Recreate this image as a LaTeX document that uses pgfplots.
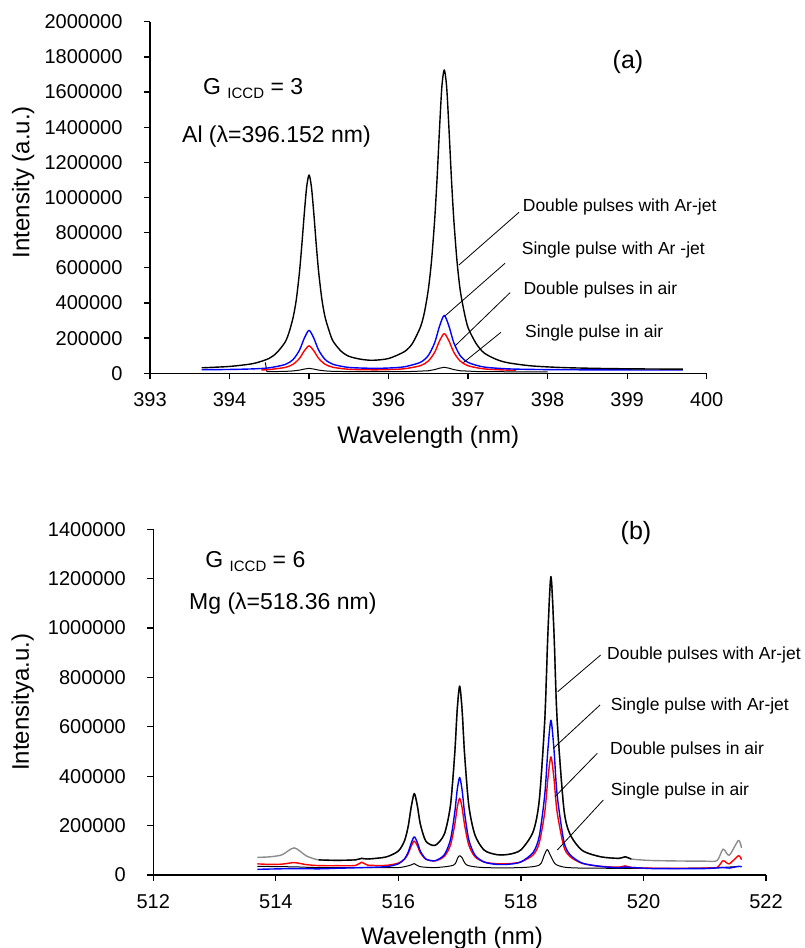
\documentclass[border=0pt]{standalone}
\usepackage{fontspec}
\setmainfont{Liberation Sans}
\usepackage{pgfplots}
\pgfplotsset{compat=1.18}
\definecolor{dpgray}{RGB}{140,140,140}
\pgfplotsset{
  spec/.style={
    scale only axis, anchor=south west, clip=false,
    axis x line=bottom, axis y line=left,
    axis line style={-, line width=1.3pt},
    every tick/.style={black, line width=1.3pt},
    tick align=outside, major tick length=6pt,
    scaled y ticks=false,
    tick label style={font=\fontsize{20}{20}\selectfont},
    yticklabel style={/pgf/number format/fixed, /pgf/number format/1000 sep={},
                      /pgf/number format/assume math mode=true, xshift=-18pt},
    xticklabel style={/pgf/number format/assume math mode=true, yshift=-10pt},
    label style={font=\fontsize{24}{24}\selectfont},
    every axis plot/.append style={line width=1.4pt, line join=round, smooth, tension=0.45},
  },
}
\tikzset{
  lbl/.style={font=\fontsize{17.5}{17.5}\selectfont, anchor=base west, inner sep=0pt},
  big/.style={font=\fontsize{23}{23}\selectfont, anchor=base west, inner sep=0pt},
}

\begin{document}
\begin{tikzpicture}
\useasboundingbox (0,0) rectangle (804pt,948pt);

% ---------------------------------------------------------------- (a) Al
\begin{axis}[spec,
  at={(150pt,574.7pt)}, width=556.7pt, height=351.6pt,
  xmin=393, xmax=400, xtick={393,394,395,396,397,398,399,400},
  ymin=0, ymax=2000000,
  ytick={0,200000,400000,600000,800000,1000000,1200000,1400000,1600000,1800000,2000000},
  xlabel={Wavelength (nm)}, ylabel={Intensity (a.u.)},
  xlabel style={at={(axis description cs:0.5,-0.181)}, anchor=center},
  ylabel style={at={(axis description cs:-0.228,0.544)}, anchor=center},
]
% single pulse in air
\addplot[black, line width=1pt, sharp plot] coordinates {
 (394.45,62000) (394.47,9000) (394.7,10850) (394.8,13500) (394.88,18100) (394.94,24000)
 (395.0,28100) (395.06,24000) (395.12,18200) (395.2,13600)
 (395.3,10950) (395.6,9100) (396.0,9000) (396.3,10300) (396.5,14500) (396.58,21100)
 (396.64,29000) (396.7,34100) (396.76,29000)
 (396.82,21100) (396.9,14500) (397.1,10200) (397.5,8600) (398.0,8300)};
% double pulses in air
\addplot[red] coordinates {
 (394.4,19050) (394.5,21400) (394.7,33400) (394.8,51500) (394.88,84900) (394.94,127600)
 (395.0,156000) (395.06,127700) (395.12,85200) (395.2,52000) (395.3,34200) (395.5,22800)
 (395.8,19800) (396.0,21100) (396.2,26000) (396.4,43300) (396.5,70100) (396.58,119800)
 (396.64,183400) (396.7,225700) (396.76,183300) (396.82,119600) (396.9,69700)
 (397.0,42800) (397.2,25000) (397.5,18000) (397.6,17000)};
% single pulse with Ar-jet
\addplot[blue] coordinates {
 (393.65,20300) (394.0,21800) (394.3,25200) (394.5,31200) (394.7,50200) (394.8,78900)
 (394.88,131800) (394.94,199400) (395.0,244500) (395.06,199700) (395.12,132300)
 (395.2,79600) (395.3,51300) (395.5,33300) (395.8,28400) (396.0,30000) (396.2,37100)
 (396.4,62400) (396.5,101600) (396.58,174300) (396.64,267200) (396.7,329100)
 (396.76,267000) (396.82,174000) (396.9,101000) (397.0,61600) (397.2,35600)
 (397.5,25300) (397.8,22100) (398.2,20300) (398.7,19400) (399.2,18900) (399.7,18600)};
% double pulses with Ar-jet
\addplot[black] coordinates {
 (393.65,31300) (394.0,39000) (394.3,55600) (394.5,85000) (394.6,120000) (394.7,177900)
 (394.75,235000) (394.8,318300) (394.84,420000)
 (394.88,577400) (394.91,735000) (394.94,907900) (394.97,1060000) (395.0,1128400)
 (395.03,1060000) (395.06,909000) (395.09,735000) (395.12,579700) (395.16,425000)
 (395.2,322300) (395.25,245000) (395.3,184200) (395.4,127000) (395.5,96800)
 (395.65,80000) (395.8,74000) (396.0,84100) (396.2,123500) (396.3,170000)
 (396.4,262600) (396.45,345000) (396.5,477500) (396.54,640000) (396.58,876300)
 (396.61,1110000) (396.64,1385900) (396.67,1630000) (396.7,1725500)
 (396.73,1630000) (396.76,1385100) (396.79,1110000) (396.82,874800) (396.86,640000)
 (396.9,474900) (396.95,350000) (397.0,258600) (397.1,170000) (397.2,115900)
 (397.35,80000) (397.5,59900) (397.8,42000) (398.2,32400) (398.7,27300) (399.2,24800) (399.7,23400)};

\draw[black, line width=0.8pt] (axis cs:397.64,915800) -- (axis cs:396.885,616000);
\draw[black, line width=0.8pt] (axis cs:397.464,625700) -- (axis cs:396.709,326000);
\draw[black, line width=0.8pt] (axis cs:397.527,458500) -- (axis cs:396.835,155300);
\draw[black, line width=0.8pt] (axis cs:397.413,233200) -- (axis cs:396.94,60300);
\node[lbl] at (axis cs:397.686,919200) {Double pulses with Ar-jet};
\node[lbl] at (axis cs:397.674,672900) {Single pulse with Ar -jet};
\node[lbl] at (axis cs:397.694,445400) {Double pulses in air};
\node[lbl] at (axis cs:397.715,204800) {Single pulse in air};
\node[big] at (axis cs:393.666,1585900) {G \raisebox{-4pt}{\fontsize{15}{15}\selectfont ICCD} = 3};
\node[big] at (axis cs:393.402,1311700) {Al (λ=396.152 nm)};
\node[font=\fontsize{25}{25}\selectfont, anchor=center] at (axis cs:399.01,1770800) {(a)};
\end{axis}

% ---------------------------------------------------------------- (b) Mg
\begin{axis}[spec,
  at={(153.3pt,73pt)}, width=612.7pt, height=345.7pt,
  xmin=512, xmax=522, xtick={512,514,516,518,520,522},
  ymin=0, ymax=1400000,
  ytick={0,200000,400000,600000,800000,1000000,1200000,1400000},
  xlabel={Wavelength (nm)}, ylabel={Intensitya.u.)},
  xlabel style={at={(axis description cs:0.4875,-0.182)}, anchor=center},
  ylabel style={at={(axis description cs:-0.213,0.5)}, anchor=center},
]
% single pulse in air
\addplot[black, line width=1pt] coordinates {
 (513.7,35000) (514.3,33000) (514.7,30000) (515.5,30000) (516.0,30000) (516.2,40000)
 (516.26,46000) (516.35,34000) (516.6,30000) (516.9,40000) (516.97,70000) (517.0,78000)
 (517.04,70000) (517.12,40000) (517.4,30000) (518.0,30000) (518.3,40000) (518.38,80000)
 (518.43,103000) (518.48,80000) (518.56,45000) (518.7,32000) (519.0,28000)
 (520.0,27000) (521.0,28000) (521.6,35000)};
% double pulses in air
\addplot[red] coordinates {
 (513.7,45000) (513.9,43000) (514.1,44000) (514.3,50000) (514.5,42000) (514.7,38000)
 (515.0,37700) (515.3,38500) (515.4,52000) (515.5,40000) (515.8,39000) (516.0,48300)
 (516.1,64200) (516.16,86700) (516.21,117200) (516.26,137800) (516.31,118600)
 (516.36,89500) (516.45,63600) (516.6,57400) (516.75,75400) (516.85,121100)
 (516.92,203800) (516.96,273000) (517.0,310800) (517.04,272800) (517.08,203400)
 (517.15,120400) (517.25,73800) (517.4,52700) (517.6,45500) (517.8,45800)
 (518.0,52900) (518.2,81500) (518.3,130400) (518.39,256100) (518.44,389500)
 (518.49,478400) (518.54,389300) (518.59,255700) (518.7,115300) (518.8,74800)
 (519.0,47200) (519.3,35200) (519.6,31600) (519.7,37000) (519.8,30600) (520.1,27700)
 (520.5,27100) (521.0,27700) (521.2,30000) (521.3,58000) (521.4,45000) (521.55,78000)
 (521.6,62000)};
% single pulse with Ar-jet
\addplot[blue] coordinates {
 (513.7,23000) (514.3,26000) (514.7,25000) (515.0,27200) (515.4,30000) (515.8,33800)
 (516.0,45300) (516.1,64800) (516.16,92200) (516.21,129500) (516.26,154700)
 (516.31,131400) (516.36,96000) (516.45,64600) (516.6,57800) (516.75,82200)
 (516.85,143000) (516.92,252800) (516.96,344600) (517.0,394900) (517.04,344400)
 (517.08,252400) (517.15,142200) (517.25,80500) (517.4,52400) (517.6,43000)
 (517.8,43500) (518.0,53000) (518.2,91600) (518.3,157600) (518.39,327100)
 (518.44,507000) (518.49,626800) (518.54,506700) (518.59,326500) (518.7,137300)
 (518.8,82700) (519.0,48100) (519.3,34700) (519.6,29500) (519.7,32000) (520.1,26300)
 (520.5,25500) (521.0,26000) (521.3,30000) (521.4,28000) (521.55,35000) (521.6,33000)};
% double pulses with Ar-jet (grey trace, black over the middle)
\addplot[dpgray] coordinates {
 (513.7,71500) (513.9,73600) (514.1,81700) (514.3,109800) (514.5,77000) (514.7,61200)
 (515.0,59300) (515.3,61300) (515.4,67400) (515.5,64800) (515.8,73100) (516.0,97300)
 (516.1,138600) (516.16,196900) (516.21,276300) (516.26,329900) (516.31,279800)
 (516.36,204200) (516.45,136600) (516.6,120100) (516.75,165800) (516.85,281900)
 (516.92,492500) (516.96,668500) (517.0,764800) (517.04,668100) (517.08,491600)
 (517.15,280000) (517.25,161700) (517.4,100800) (517.6,82700) (517.8,83600)
 (518.0,101800) (518.2,175700) (518.3,304200) (518.39,631200) (518.44,976800)
 (518.49,1208500) (518.54,978200) (518.59,633000) (518.7,270500) (518.8,166000)
 (519.0,99700) (519.3,73900) (519.6,67300) (519.7,73800) (519.8,64600) (520.1,59000)
 (520.5,57000) (521.0,56000) (521.2,58000) (521.3,105000) (521.4,80000)
 (521.55,140000) (521.6,110000)};
\addplot[black] coordinates {
 (514.7,61200) (515.0,59300) (515.3,61300) (515.4,67400) (515.5,64800) (515.8,73100)
 (516.0,97300) (516.1,138600) (516.16,196900) (516.21,276300) (516.26,329900)
 (516.31,279800) (516.36,204200) (516.45,136600) (516.6,120100) (516.75,165800)
 (516.85,281900) (516.92,492500) (516.96,668500) (517.0,764800) (517.04,668100)
 (517.08,491600) (517.15,280000) (517.25,161700) (517.4,100800) (517.6,82700)
 (517.8,83600) (518.0,101800) (518.2,175700) (518.3,304200) (518.39,631200)
 (518.44,976800) (518.49,1208500) (518.54,978200) (518.59,633000) (518.7,270500)
 (518.8,166000) (519.0,99700) (519.3,73900) (519.6,67300) (519.7,73800) (519.8,64600)};

\draw[black, line width=0.8pt] (axis cs:519.302,890960) -- (axis cs:518.600,742300);
\draw[black, line width=0.8pt] (axis cs:519.291,688460) -- (axis cs:518.529,513100);
\draw[black, line width=0.8pt] (axis cs:519.247,492900) -- (axis cs:518.556,317100);
\draw[black, line width=0.8pt] (axis cs:519.345,303700) -- (axis cs:518.594,101200);
\node[lbl] at (axis cs:519.405,870700) {Double pulses with Ar-jet};
\node[lbl] at (axis cs:519.465,668200) {Single pulse with Ar-jet};
\node[lbl] at (axis cs:519.454,490000) {Double pulses in air};
\node[lbl] at (axis cs:519.465,321100) {Single pulse in air};
\node[big] at (axis cs:512.847,1243300) {G \raisebox{-4pt}{\fontsize{15}{15}\selectfont ICCD} = 6};
\node[big] at (axis cs:512.583,1073200) {Mg (λ=518.36 nm)};
\node[font=\fontsize{25}{25}\selectfont, anchor=center] at (axis cs:519.878,1385000) {(b)};
\end{axis}
\end{tikzpicture}
\end{document}
